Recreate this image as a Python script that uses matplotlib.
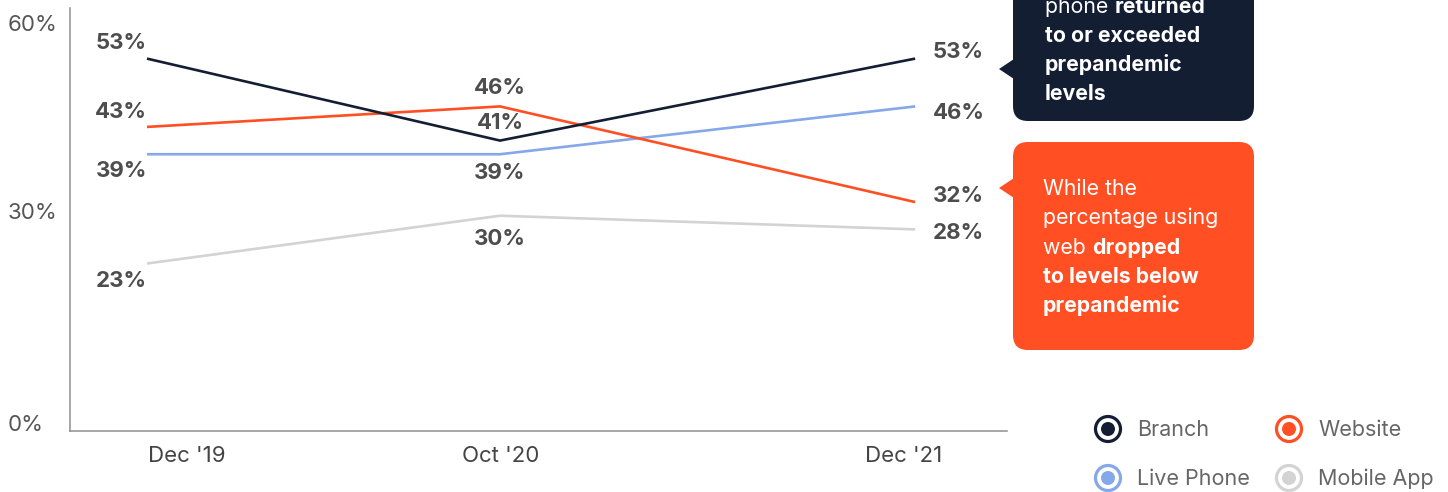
import matplotlib
matplotlib.use('Agg')
import matplotlib.pyplot as plt
from matplotlib.patches import FancyBboxPatch, Polygon, Circle
from matplotlib.transforms import ScaledTranslation

plt.rcParams['font.family'] = ['Inter', 'DejaVu Sans']

# survey waves and share of respondents per channel (%)
periods = ["Dec '19", "Oct '20", "Dec '21"]
branch = [53, 41, 53]
website = [43, 46, 32]
live_phone = [39, 39, 46]
mobile_app = [23, 30, 28]

channel_names = ['Branch', 'Website', 'Live Phone', 'Mobile App']
channel_values = [branch, website, live_phone, mobile_app]
channel_colors = ['#141e33', '#ff4f23', '#85a8e8', '#d3d3d3']

# where each wave sits along the x axis (uneven spacing)
x_slots = [0.0, 1.0, 2.176]
xtick_slots = [0.113, 1.003, 2.144]

# label placement per series at each wave, in pixels (dx, dy; dy down)
label_offsets = {
    'Branch':     [(0, -16), (0, -18), (18, -7)],
    'Website':    [(0, -15), (0, -18), (18, -6)],
    'Live Phone': [(0, 17), (0, 19), (18, 7)],
    'Mobile App': [(0, 17), (0, 23), (18, 4)],
}
label_ha = ['right', 'center', 'left']

W, H = 1448, 492
fig = plt.figure(figsize=(W / 100, H / 100), dpi=100)

ax = fig.add_axes([70 / W, 1 - 431 / H, (1007 - 70) / W, (431 - 8) / H])
ax.set_xlim(-0.2181, 2.4363)
ax.set_ylim(-1.52, 60.41)

for name, vals, col in zip(channel_names[::-1], channel_values[::-1], channel_colors[::-1]):
    ax.plot(x_slots, vals, color=col, lw=1.9, solid_capstyle='butt', zorder=2)

for name, vals in zip(channel_names, channel_values):
    for i, v in enumerate(vals):
        dx, dy = label_offsets[name][i]
        ax.annotate('%d%%' % v, xy=(x_slots[i], v), xytext=(dx * 0.72, -dy * 0.72),
                    textcoords='offset points', ha=label_ha[i], va='center',
                    fontsize=16, fontweight='bold', color='#4d4d4d')

for s in ['top', 'right']:
    ax.spines[s].set_visible(False)
for s in ['left', 'bottom']:
    ax.spines[s].set_color('#8f8f8f')
    ax.spines[s].set_linewidth(1.1)

ax.set_yticks([0, 30, 60])
ax.set_yticklabels(['0%', '30%', '60%'], fontsize=16, color='#555555', ha='left')
ax.tick_params(axis='y', length=0, pad=62 * 0.72)
# nudge the tick labels a little (pixels, down)
for lab, shift in zip(ax.get_yticklabels(), [-2, 5, -12]):
    lab.set_transform(lab.get_transform() + ScaledTranslation(0, shift / 100, fig.dpi_scale_trans))
ax.set_xticks(xtick_slots)
ax.set_xticklabels(periods, fontsize=16, color='#444444')
ax.tick_params(axis='x', length=0, pad=11)

# overlay in pixel coordinates for callouts and legend
ov = fig.add_axes([0, 0, 1, 1])
ov.set_xlim(0, W)
ov.set_ylim(H, 0)
ov.axis('off')
renderer = fig.canvas.get_renderer()


def rich_line(x, y, parts, size, color):
    for s, bold in parts:
        t = ov.text(x, y, s, fontsize=size, color=color, va='baseline', ha='left',
                    fontweight='bold' if bold else 'normal')
        x += t.get_window_extent(renderer).width


def callout(x0, y0, x1, y1, tip_y, color):
    ov.add_patch(FancyBboxPatch((x0, y0), x1 - x0, y1 - y0,
                                boxstyle='round,pad=0,rounding_size=15',
                                fc=color, ec='none'))
    ov.add_patch(Polygon([(x0 + 1, tip_y - 10), (x0 - 14, tip_y), (x0 + 1, tip_y + 10)],
                         closed=True, fc=color, ec='none'))


callout(1013, -60, 1254, 121, 69, '#141e33')
dark_lines = [
    [('phone ', False), ('returned', True)],
    [('to or exceeded', True)],
    [('prepandemic', True)],
    [('levels', True)],
]
for k, parts in enumerate(dark_lines):
    rich_line(1045, 13 + 29 * k, parts, 15.3, 'white')

callout(1013, 142, 1254, 350, 188, '#ff4f23')
orange_lines = [
    [('While the', False)],
    [('percentage using', False)],
    [('web ', False), ('dropped', True)],
    [('to levels below', True)],
    [('prepandemic', True)],
]
for k, parts in enumerate(orange_lines):
    rich_line(1043, 195 + 29.25 * k, parts, 15.3, 'white')

# legend: ring markers with a dot in the middle
legend_pos = [(1108, 429), (1289, 429), (1108, 478), (1289, 478)]
for name, col, (cx, cy) in zip(channel_names, channel_colors, legend_pos):
    ov.add_patch(Circle((cx, cy), 12.5, fc='white', ec=col, lw=2.3))
    ov.add_patch(Circle((cx, cy), 7, fc=col, ec='none'))
    ov.text(cx + 29, cy + 7, name, fontsize=15.5, color='#666666', va='baseline', ha='left')

fig.savefig('out.png', dpi=100)
